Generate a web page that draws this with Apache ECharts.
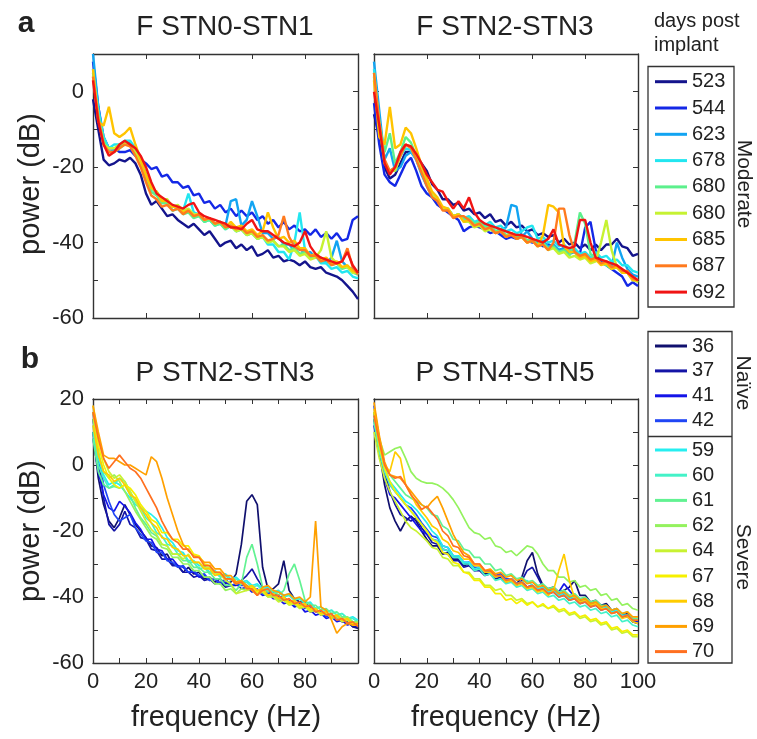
<!DOCTYPE html>
<html><head><meta charset="utf-8">
<script src="https://cdn.jsdelivr.net/npm/echarts@6/dist/echarts.min.js"></script>
<style>html,body{margin:0;padding:0;background:#fff}#c{width:757px;height:739px}</style>
</head><body><div id="c"></div><script>
// ---------- data ----------
const FREQ = [0,2,4,6,8,10,12,14,16,18,20,22,24,26,28,30,32,34,36,38,40,42,44,46,48,50,52,54,56,58,60,62,64,66,68,70,72,74,76,78,80,82,84,86,88,90,92,94,96,98,100];

const MODERATE = ['523','544','623','678','680a','680b','685','687','692'];
const NAIVE = ['36','37','41','42'];
const SEVERE = ['59','60','61','62','64','67','68','69','70'];

const Y_LABELS_TOP = [0,-20,-40,-60];
const Y_LABELS_BOTTOM = [20,0,-20,-40,-60];
const X_LABELS_C = [0,20,40,60,80];
const X_LABELS_D = [0,20,40,60,80,100];

// Panel a, F STN0-STN1
const FA_523 = [-2,-10,-18,-19.5,-19,-18,-18.5,-17.5,-19,-22, -27,-30,-29,-31,-33,-32.5,-34,-35,-36,-35, -36.5,-38,-37,-39,-41,-40,-39.5,-41.5,-40.5,-42, -41,-43.5,-43,-42,-44,-43.5,-45,-44.5,-45,-46, -45,-46.5,-47,-46.5,-48,-48.5,-49,-50,-51.5,-53, -55];
const FA_544 = [8,-4,-12,-15,-15,-16,-16,-15.5,-17,-18, -19,-20.5,-20,-22.5,-22,-24,-24,-25.5,-25,-27.5, -27,-29.5,-29,-31,-30,-32,-31,-33,-31.5,-33, -32,-34,-33,-35,-34,-36,-34.5,-36.5,-35.5,-37, -36.5,-38,-36.5,-38.5,-37.5,-39,-37.5,-39.5,-39,-34, -33];
const FA_623 = [10,-4,-13,-16,-15.5,-14.5,-14,-13.5,-15,-18, -22,-25.5,-26.5,-29,-29,-30.5,-30.5,-32,-31.5,-33, -32.5,-34,-33.5,-35,-34.5,-35.5,-29,-28.5,-35.5,-34, -29,-33,-37.5,-37.5,-39,-38.5,-40.5,-40.5,-42,-41.5, -43,-42.5,-44,-44,-45.5,-44,-39.5,-45,-46.5,-47, -48.5];
const FA_678 = [6,-5,-12,-15,-14,-14,-13,-13,-15,-18, -22,-25.5,-27,-29.5,-29.5,-31.5,-31,-31.5,-27,-32, -32.5,-34.5,-34,-35.5,-35,-36.5,-35.5,-37,-36.5,-38, -37.5,-39,-38.5,-40.5,-40.5,-42.5,-42.5,-44.5,-40,-32, -42,-44,-43.5,-45.5,-45.5,-47,-46.5,-48,-47.5,-49, -49.5];
const FA_680a = [5,-6,-13,-16,-16,-15,-14,-14,-16,-19, -23,-26.5,-27.5,-29.5,-29.5,-31.5,-31,-32.5,-32,-33.5, -33,-34.5,-34,-35.5,-35,-36.5,-35.5,-37,-36.5,-38, -37.5,-39,-38.5,-40,-39.5,-41,-40.5,-42,-41.5,-43, -42.5,-44,-43.5,-45,-44.5,-46,-45.5,-47,-46.5,-48, -48.5];
const FA_680b = [4,-7,-14,-15,-15,-14,-13.5,-14,-16,-19, -22,-25.5,-26.5,-28.5,-28.5,-30.5,-30,-31.5,-31,-32.5, -32.5,-34,-33.5,-35,-34.5,-36,-35.5,-37,-36.5,-38, -37.5,-39,-38.5,-40,-39.5,-41,-41,-42.5,-42,-43.5, -43,-44.5,-44,-42,-37,-44,-45.5,-46.5,-46.5,-48, -48];
const FA_685 = [6,-8,-9,-4,-11,-12,-11,-9.5,-14,-18, -22,-25.5,-26.5,-29,-29,-30.5,-30.5,-32,-31.5,-33, -32.5,-34,-33.5,-35,-34.5,-36,-34.5,-36,-35.5,-37, -36.5,-38,-37,-32,-36,-39,-38.5,-40,-39.5,-41.5, -41.5,-43.5,-43,-44.5,-44,-45.5,-45,-46.5,-46,-47.5, -48];
const FA_687 = [4,-7,-14,-16,-16,-15,-14,-14.5,-17,-20, -24,-27.5,-28.5,-30.5,-30,-31.5,-31,-32.5,-31.5,-33, -32.5,-34,-33.5,-35,-34.5,-36,-35.5,-36.5,-36,-37.5, -37,-38.5,-38,-39.5,-39,-38,-33,-38.5,-41,-42, -42,-43.5,-43.5,-45,-44.5,-46,-45.5,-45,-41.5,-46.5, -48.5];
const FA_692 = [3,-8,-14,-17,-16,-14,-13,-14,-15,-17, -20,-24,-27,-28,-29,-30,-30.5,-31,-30,-29.5, -32,-33,-33.5,-34,-34.5,-35,-36,-36,-36.5,-35, -34,-36.5,-37,-37,-38,-39,-40,-40.5,-41,-40, -37,-41,-43,-44,-44.5,-45,-45.5,-45,-42.5,-46, -48];

// Panel a, F STN2-STN3
const FB_523 = [-6,-12,-20,-23,-22,-19,-16,-16,-17,-19, -21,-24.5,-26,-28.5,-28.5,-30,-29.5,-31.5,-31,-32.5, -32,-33.5,-32.5,-34.5,-34,-35.5,-34.5,-36,-35.5,-37, -36.5,-38,-37.5,-38.5,-38,-40,-39,-40.5,-40,-41.5, -40.5,-42,-40.5,-42,-40.5,-40.5,-39,-41,-41.5,-43.5, -43];
const FB_544 = [-3,-14,-22,-24,-25,-22,-19,-17.5,-21,-25, -27,-28,-30,-31,-32,-33,-34,-37,-36,-35.5, -36,-36.5,-37.5,-37,-38,-39,-38.5,-39,-38.5,-39.5, -40,-40,-41,-40.5,-41,-42,-41.5,-42.5,-42,-43, -36,-34.5,-42,-45,-46,-47,-48,-49,-51.5,-50.5, -51.5];
const FB_623 = [8,-5,-18,-15,-21,-20,-17,-16,-18,-22, -25,-28,-28.5,-31,-31,-33,-32.5,-34,-33.5,-35, -34.5,-36,-35.5,-37,-36.5,-36,-30,-30.5,-38.5,-37, -39,-40,-39.5,-41,-40.5,-42,-41.5,-43,-42.5,-44, -43.5,-44.5,-44,-45.5,-45,-46.5,-40,-44,-47,-48.5, -49];
const FB_678 = [6,-8,-19,-21,-20,-17,-15,-15.5,-18,-21.5, -24.5,-27.5,-28.5,-31,-31,-33,-32.5,-33.5,-33,-34.5, -34,-35.5,-34.5,-36,-35.5,-37,-36.5,-37.5,-37,-36, -35.5,-39,-38.5,-40,-39.5,-41,-40.5,-42,-41.5,-43, -42.5,-44,-42.5,-44,-43.5,-45,-44.5,-46,-46,-47.5, -48];
const FB_680a = [4,-8,-16,-11,-19,-16,-12,-13.5,-17,-21, -24.5,-27.5,-28.5,-31,-31,-33,-32.5,-34,-33.5,-35, -34.5,-36,-35.5,-37,-36.5,-38,-37.5,-38.5,-38,-39.5, -39,-40.5,-40,-41.5,-41,-42.5,-42,-43.5,-40,-32, -35,-43,-44.5,-45.5,-46,-47,-46.5,-48,-48,-50, -50];
const FB_680b = [5,-9,-19,-21,-21,-17,-14,-14.5,-17.5,-21, -24.5,-27.5,-28.5,-31,-31,-33,-32.5,-34.5,-34.5,-36, -35.5,-37,-36.5,-37.5,-37,-38.5,-37.5,-39,-38.5,-40, -39.5,-41,-40.5,-42,-41.5,-43,-42.5,-44,-43.5,-44.5, -44,-45.5,-45,-40,-34,-42,-46.5,-47.5,-48,-49.5, -50.5];
const FB_685 = [3,-12,-14,-4,-15,-14,-9.5,-11,-15,-19.5, -23,-26.5,-28,-30.5,-31,-33,-32.5,-34.5,-34,-35.5, -35,-36.5,-36,-37.5,-37,-38.5,-37.5,-39,-38.5,-40, -39.5,-41,-38,-30,-30.5,-32,-41,-42.5,-42.5,-44, -43.5,-45,-44.5,-46,-45.5,-47,-46.5,-48,-48,-50, -50];
const FB_687 = [5,-8,-18,-21,-20,-17,-14,-15,-18,-21.5, -25,-28,-29,-31.5,-31.5,-33.5,-33,-33,-34,-35.5, -35,-36.5,-36,-37.5,-37,-38.5,-38,-39,-38.5,-40, -39.5,-41,-40.5,-42,-40,-31,-31,-38,-42.5,-43.5, -43,-44.5,-44,-45.5,-45,-46.5,-46,-47.5,-47.5,-49.5, -50];
const FB_692 = [0,-9,-19,-22,-20,-16,-14,-14.5,-16.5,-19, -22,-24,-26,-26.5,-29,-31,-29,-31,-28,-32, -34,-35,-35.5,-36,-36.5,-37,-37.5,-38,-38,-38.5, -39,-39.5,-40,-39,-36.5,-40.5,-41,-41.5,-41,-34, -34,-40,-44,-44.5,-45,-45.5,-46,-47,-48,-49, -50];

// Panel b, P STN2-STN3
const PC_36 = [10,-4,-12,-17,-19,-16,-12,-15,-18,-20, -22,-24.5,-25,-27.5,-27,-30,-30.5,-32.5,-31,-33, -32.5,-34.5,-34,-35.5,-34.5,-36,-35.5,-33,-24,-11, -9,-12,-31,-37.5,-37.5,-36,-29,-38,-40.5,-41.5, -41.5,-43.5,-43.5,-45,-44.5,-46.5,-45.5,-47.5,-47.5,-49, -49.5];
const PC_37 = [14,2,-10,-18,-20,-18,-14,-18,-19,-22, -22.5,-25.5,-26,-28.5,-28.5,-30.5,-30.5,-32.5,-32.5,-34, -33.5,-35,-34.5,-36,-35.5,-37,-36.5,-36.5,-35,-33.5, -31.5,-34.5,-37,-38.5,-38.5,-40,-40,-41.5,-41.5,-43, -42.5,-44.5,-44,-45.5,-45,-46.5,-46,-47.5,-47,-49, -49];
const PC_41 = [8,-2,-9,-13,-14,-11,-12.5,-14.5,-17.5,-19.5, -22.5,-22.5,-25.5,-26,-28.5,-28.5,-30.5,-31,-32.5,-32.5, -34,-33.5,-35,-34.5,-36,-35.5,-36.5,-36,-37.5,-37, -38.5,-38,-39.5,-39,-40.5,-40.5,-42,-41.5,-43,-42.5, -44.5,-44,-45.5,-45,-46.5,-46,-47.5,-47,-48.5,-48, -49];
const PC_42 = [16,4,-6,-11,-15,-17,-16,-15,-19,-21, -23,-23.5,-26.5,-26.5,-29,-29.5,-31,-30.5,-32.5,-32, -33.5,-33,-35,-34.5,-36,-34.5,-36.5,-36,-36.5,-36.5, -38,-37.5,-39,-38.5,-40,-39.5,-41,-41,-42.5,-42, -43.5,-43,-44.5,-44.5,-46,-45.5,-47,-46.5,-48,-47.5, -48.5];
const PC_59 = [12,2,-3,-6,-5,-6,-8,-10,-12,-13, -14,-15,-16.5,-19,-22,-23.5,-26,-26.5,-29,-29, -30.5,-30.5,-32.5,-32,-33.5,-33,-34.5,-34,-35.5,-35, -36.5,-36,-37.5,-37,-38.5,-38,-39.5,-39,-40.5,-40.5, -42,-41.5,-43.5,-43,-44.5,-44,-45.5,-45,-46.5,-46, -47];
const PC_60 = [10,0,-4,-7,-6,-4,-5,-8,-11,-13, -16,-17.5,-20.5,-21.5,-24,-24.5,-27,-27,-29.5,-29.5, -31.5,-31,-33,-32.5,-34,-33.5,-35,-34.5,-36,-35.5, -37,-36.5,-38,-37.5,-39,-38.5,-40,-39.5,-41,-40.5, -42,-42,-43.5,-43,-44.5,-44,-45.5,-45,-46.5,-46.5, -47.5];
const PC_61 = [8,-2,-6,-7,-6.5,-7,-6,-9,-13,-16, -18,-20.5,-21.5,-24,-24.5,-27,-27,-29,-29,-31, -31,-32.5,-32.5,-34.5,-34.5,-36.5,-36.5,-38,-36,-28, -24,-30,-37,-38.5,-38,-39.5,-38,-33,-30,-35, -41,-42.5,-42.5,-44,-43.5,-45,-44.5,-46,-46,-47.5, -48];
const PC_62 = [14,4,-2,-4,-3,-5,-8,-11,-14,-16.5, -19,-21.5,-22.5,-25,-25.5,-28,-28,-30,-30,-32, -32,-34,-34,-36,-36,-38,-37.5,-39,-37.5,-38, -37.5,-39,-38.5,-40,-39.5,-41,-40.5,-42,-41.5,-43, -42.5,-44,-43.5,-45,-44.5,-46,-45.5,-46.5,-46,-47.5, -47.5];
const PC_64 = [18,8,2,-2,-4,-3,-5,-8,-11,-14, -17,-19.5,-21,-24,-24.5,-27,-27,-28.5,-27,-29.5, -29.5,-31,-31,-33,-33,-35,-36,-39,-38.5,-38, -37.5,-39,-38.5,-40,-40,-41.5,-41,-42.5,-42,-43.5, -43,-44.5,-44,-45.5,-45,-46.5,-46,-47.5,-47,-48.5, -48.5];
const PC_67 = [16,6,0,-4,-6,-7,-6,-7,-9,-12, -14,-16.5,-17.5,-20.5,-20.5,-22.5,-22.5,-24.5,-24.5,-27, -27.5,-30,-30.5,-32.5,-32.5,-34.5,-34.5,-36,-35.5,-37.5, -37,-38.5,-38,-39.5,-39,-40.5,-40,-42,-41.5,-43, -42.5,-44,-43.5,-45,-44.5,-46,-45.5,-47,-46.5,-48, -48];
const PC_68 = [12,3,-2,-3,-5,-4,-6,-9,-10,-13, -15,-17.5,-19,-22,-22.5,-25,-25.5,-27.5,-27.5,-29.5, -29.5,-31.5,-31.5,-33.5,-33,-34.5,-34.5,-36,-35.5,-37, -36.5,-38,-37.5,-39.5,-39,-40.5,-40,-41.5,-41,-42.5, -42,-43.5,-43.5,-45,-44.5,-46,-45.5,-47,-46.5,-48.5, -48.5];
const PC_69 = [18,10,3,2,2,1,0,0,-1,-2, -3,2.5,1,-4,-10,-15,-20,-24,-26,-27.5, -28,-29.5,-29.5,-31.5,-31.5,-33.5,-33.5,-35.5,-35,-36.5, -38,-39.5,-37,-36.5,-38,-38.5,-39.5,-39,-40.5,-40, -41.5,-40,-17,-43,-44,-47,-51,-49,-48,-48.5, -48];
const PC_70 = [16,8,2,-1,1,3,1,-1,-2,-4, -7,-10,-13,-17,-20,-22.5,-23.5,-25.5,-25.5,-28, -28,-30.5,-30.5,-32.5,-32.5,-34.5,-34.5,-36,-35.5,-37.5, -37.5,-39.5,-38,-37.5,-39.5,-39.5,-41,-40.5,-42,-41.5, -43,-42.5,-44.5,-44,-45.5,-45,-47,-46.5,-48,-47.5, -49];

// Panel b, P STN4-STN5
const PD_36 = [14,4,-6,-13,-17,-20,-17,-15.5,-17,-20, -22.5,-24.5,-24.5,-27,-26.5,-28.5,-28.5,-30.5,-30,-32, -31.5,-33,-32.5,-34,-33.5,-35,-34.5,-36,-34,-29, -26.5,-33,-36.5,-37.5,-37,-38.5,-38,-37,-35,-39.5, -39.5,-41.5,-41,-42.5,-42,-44,-43.5,-45.5,-45,-47, -47.5];
const PD_37 = [16,6,-2,-8,-12,-15,-16,-17,-16,-19, -21,-23.5,-24,-26.5,-27,-29,-29,-31,-30.5,-32, -32,-33.5,-33,-34.5,-34,-35.5,-35,-36.5,-35,-32, -31,-34,-37,-38,-38,-39.5,-39,-40.5,-40,-41.5, -41,-42.5,-42,-43.5,-43,-44.5,-44,-46,-45.5,-47.5, -48];
const PD_41 = [12,3,-4,-9,-10,-12,-14,-16,-18,-20, -21,-22.5,-23,-25.5,-26,-28,-28,-30,-29.5,-31.5, -31,-32.5,-32.5,-34,-33.5,-35,-34.5,-36,-35.5,-37, -36.5,-38,-37.5,-39,-38.5,-38.5,-36,-38,-40,-41, -40.5,-42,-42,-43.5,-43,-44.5,-44.5,-46,-46,-47.5, -47.5];
const PD_42 = [18,8,0,-6,-8,-10,-12,-13,-15,-17.5, -19.5,-21.5,-22,-24.5,-25,-27.5,-27.5,-29.5,-29.5,-31, -31,-32.5,-32,-33.5,-33,-34.5,-34.5,-36,-35.5,-37, -36.5,-38,-37.5,-39,-38.5,-40,-39.5,-41,-40.5,-42, -41.5,-43,-42.5,-44,-43.5,-45,-44.5,-46,-45.5,-47.5, -48];
const PD_59 = [15,6,-1,-5,-7,-9,-11,-12,-13.5,-15.5, -17.5,-20,-21.5,-24.5,-25,-27.5,-27.5,-29.5,-29.5,-31.5, -31,-32.5,-32.5,-34,-33.5,-35,-34.5,-36,-35.5,-35, -36.5,-37.5,-37,-38.5,-38,-39.5,-39,-40.5,-40,-41.5, -41,-42.5,-42,-43.5,-43,-44.5,-44,-45.5,-45.5,-47, -47];
const PD_60 = [13,4,-2,-6,-8,-10,-12,-14,-16,-18, -20,-22.5,-23,-25.5,-26,-28,-28,-30,-30,-32, -31.5,-33.5,-33,-35,-34.5,-36,-35.5,-37,-36.5,-38, -37.5,-39,-38.5,-40,-39.5,-41,-40.5,-42,-41.5,-43, -42.5,-44,-43.5,-45,-44.5,-46,-45.5,-47.5,-47,-48.5, -49];
const PD_61 = [14,5,0,-3,-5,-7,-9,-10,-11,-12, -13,-15,-15.5,-18.5,-19.5,-22.5,-23,-25.5,-26,-28, -28,-30,-30,-32,-31.5,-33.5,-33,-34.5,-34,-35.5, -35,-36.5,-36,-37.5,-37,-38.5,-38,-39.5,-39,-40.5, -40,-41.5,-41,-42.5,-42.5,-44,-43.5,-45,-44.5,-46.5, -46.5];
const PD_62 = [16,8,3,4,5,5.5,2,-2,-4,-5, -5.5,-5.5,-6,-7,-8.5,-10.5,-13,-16,-19,-20.5, -21,-22.5,-22,-24.5,-25,-26.5,-26,-27.5,-26,-24.5, -25,-27,-30,-32,-32,-34,-34,-35.5,-35,-37, -36.5,-38,-37.5,-39.5,-39,-41,-40.5,-42.5,-42,-43.5, -44];
const PD_64 = [10,2,-4,-8,-11,-14,-17,-19,-20,-21.5, -23,-25,-25.5,-28,-28.5,-30.5,-30.5,-32.5,-32.5,-34.5, -34.5,-36.5,-36.5,-38,-37.5,-39.5,-39.5,-41,-40.5,-42, -41.5,-43,-42.5,-43.5,-43,-44.5,-44,-45.5,-45,-46.5, -46,-47.5,-47,-48.5,-48,-50,-49.5,-51,-50.5,-52, -52];
const PD_67 = [16,6,-1,-5,-8,-10,-12,-14,-16,-18, -20,-22.5,-23.5,-26.5,-27,-29.5,-30,-32.5,-33,-35, -35,-37,-37,-39,-39,-41,-40.5,-42,-41,-42.5, -41.5,-43,-42,-43.5,-42.5,-44,-43.5,-45,-44.5,-46, -45.5,-47,-46.5,-48,-47.5,-49.5,-49,-50.5,-50,-51.5, -51.5];
const PD_68 = [17,8,0,-2,4,2,-6,-9,-12,-14, -16,-18.5,-19.5,-22.5,-23.5,-26,-26.5,-28.5,-28.5,-30.5, -30.5,-32.5,-32.5,-34,-33.5,-35.5,-35,-36.5,-36,-37.5, -37,-38.5,-38,-39.5,-38,-32,-27,-35,-40.5,-41.5, -41,-42.5,-42,-43.5,-43.5,-45,-44.5,-46.5,-46,-47.5, -48];
const PD_69 = [19,9,1,-3,-3.5,-4,-6,-8,-10,-12, -13,-11,-9.5,-13,-17,-21,-24,-26.5,-27.5,-30, -30,-32,-31.5,-33,-32.5,-34,-33.5,-35,-34.5,-36, -35.5,-37,-36.5,-38,-37.5,-39,-38.5,-40,-39.5,-41, -40.5,-42,-41.5,-43,-42.5,-44,-43.5,-45,-44.5,-46, -46];
const PD_70 = [15,7,0,-3,-4,-3.5,-6,-9,-11,-13.5, -12.5,-14.5,-16.5,-20,-21.5,-24.5,-25,-27.5,-28,-30, -30,-32,-32,-33.5,-33.5,-35,-34.5,-36,-35.5,-37, -36.5,-38,-37.5,-39,-38.5,-40,-39.5,-41,-40.5,-42, -41.5,-43,-42.5,-44,-43.5,-45,-44.5,-46,-45.5,-47, -47];

// ---------- styles ----------
const COLORS = {
  '523':'#14148c','544':'#1428e6','623':'#12a4f2','678':'#22e6f0','680a':'#5cf08c','680b':'#c6f232','685':'#ffc400','687':'#ff7a1e','692':'#f01414',
  '36':'#10106e','37':'#1414a6','41':'#1414e8','42':'#2046f5','59':'#26eef0','60':'#44f2c8','61':'#62f292','62':'#94f25e','64':'#c8f232','67':'#f6f000','68':'#ffcc00','69':'#ffa000','70':'#ff7020'
};
const INK = '#222';
const FONT = 'Liberation Sans, Arial, sans-serif';

const PANELS = [
  {names: MODERATE, values: [FA_523,FA_544,FA_623,FA_678,FA_680a,FA_680b,FA_685,FA_687,FA_692], width: 2.4},
  {names: MODERATE, values: [FB_523,FB_544,FB_623,FB_678,FB_680a,FB_680b,FB_685,FB_687,FB_692], width: 2.4},
  {names: NAIVE.concat(SEVERE), values: [PC_36,PC_37,PC_41,PC_42,PC_59,PC_60,PC_61,PC_62,PC_64,PC_67,PC_68,PC_69,PC_70], width: 1.7},
  {names: NAIVE.concat(SEVERE), values: [PD_36,PD_37,PD_41,PD_42,PD_59,PD_60,PD_61,PD_62,PD_64,PD_67,PD_68,PD_69,PD_70], width: 1.7}
];

const GRIDS = [
  {left:93, top:54, width:265, height:264},
  {left:374, top:54, width:264, height:264},
  {left:93, top:399, width:265, height:264},
  {left:374, top:399, width:264, height:264}
];
const AXCFG = [
  {ymin:-60, ymax:10, xint:20, xlab:null, ylab:Y_LABELS_TOP},
  {ymin:-60, ymax:10, xint:20, xlab:null, ylab:null},
  {ymin:-60, ymax:20, xint:10, xlab:X_LABELS_C, ylab:Y_LABELS_BOTTOM},
  {ymin:-60, ymax:20, xint:10, xlab:X_LABELS_D, ylab:null}
];

const lineAx = {show:true, onZero:false, lineStyle:{color:'#333', width:1.4}};
const tickAx = {show:true, inside:true, length:5, lineStyle:{color:'#333', width:1}};
const xAxis = [], yAxis = [];
AXCFG.forEach((c, i) => {
  xAxis.push({gridIndex:i, type:'value', min:0, max:100, interval:c.xint, position:'bottom',
    axisLine:lineAx, axisTick:tickAx, splitLine:{show:false},
    axisLabel:{show:!!c.xlab, margin:8, fontSize:22, color:INK, fontFamily:FONT,
      formatter: v => (c.xlab && c.xlab.indexOf(v) >= 0) ? String(v) : ''}});
  xAxis.push({gridIndex:i, type:'value', min:0, max:100, interval:c.xint, position:'top',
    axisLine:lineAx, axisTick:tickAx, splitLine:{show:false}, axisLabel:{show:false}});
  yAxis.push({gridIndex:i, type:'value', min:c.ymin, max:c.ymax, interval:10, position:'left',
    axisLine:lineAx, axisTick:tickAx, splitLine:{show:false},
    axisLabel:{show:!!c.ylab, margin:9, fontSize:22, color:INK, fontFamily:FONT,
      formatter: v => (c.ylab && c.ylab.indexOf(v) >= 0) ? String(v) : ''}});
  yAxis.push({gridIndex:i, type:'value', min:c.ymin, max:c.ymax, interval:10, position:'right',
    axisLine:lineAx, axisTick:tickAx, splitLine:{show:false}, axisLabel:{show:false}});
});

const series = [];
PANELS.forEach((p, i) => {
  p.names.forEach((name, k) => {
    series.push({
      type:'line', name: name, xAxisIndex: 2*i, yAxisIndex: 2*i,
      data: FREQ.map((f, j) => [f, p.values[k][j]]),
      showSymbol:false, symbol:'none', smooth:false, silent:true,
      lineStyle:{width:p.width, color:COLORS[name]}, itemStyle:{color:COLORS[name]},
      z: 2
    });
  });
});

const legendBase = {orient:'vertical', left:655, padding:0, icon:'rect', itemWidth:32, itemHeight:3,
  selectedMode:false, textStyle:{fontSize:20, lineHeight:20, color:INK, fontFamily:FONT},
  formatter: n => n.replace(/[a-z]/g, '')};

const txt = (t, x, y, size, opts) => Object.assign({type:'text', x:x, y:y,
  style:Object.assign({text:t, fontSize:size, fontFamily:FONT, fill:INK, textAlign:'center', textVerticalAlign:'middle'}, (opts && opts.style) || {})},
  opts && opts.rotation !== undefined ? {rotation: opts.rotation} : {});

const graphic = [
  txt('a', 26, 24, 30, {style:{fontWeight:'bold'}}),
  txt('b', 30, 360, 30, {style:{fontWeight:'bold'}}),
  txt('F STN0-STN1', 225, 27, 28),
  txt('F STN2-STN3', 505, 27, 28),
  txt('P STN2-STN3', 225, 373, 28),
  txt('P STN4-STN5', 505, 373, 28),
  txt('power (dB)', 31, 184, 29, {rotation: Math.PI/2}),
  txt('power (dB)', 31, 531, 29, {rotation: Math.PI/2}),
  txt('frequency (Hz)', 226, 718, 29),
  txt('frequency (Hz)', 506, 718, 29),
  txt('days post', 654, 21, 20, {style:{textAlign:'left'}}),
  txt('implant', 654, 45, 20, {style:{textAlign:'left'}}),
  txt('Moderate', 744, 184, 21, {rotation: -Math.PI/2}),
  txt('Naïve', 743, 383, 21, {rotation: -Math.PI/2}),
  txt('Severe', 743, 557, 21, {rotation: -Math.PI/2}),
  {type:'rect', shape:{x:648, y:66.5, width:86, height:240.5}, style:{fill:'none', stroke:'#333', lineWidth:1.3}},
  {type:'rect', shape:{x:648, y:331.5, width:84, height:331.5}, style:{fill:'none', stroke:'#333', lineWidth:1.3}},
  {type:'line', shape:{x1:648, y1:436.5, x2:732, y2:436.5}, style:{stroke:'#333', lineWidth:1.3}}
];

const chart = echarts.init(document.getElementById('c'), null, {renderer:'canvas'});
chart.setOption({
  animation:false,
  backgroundColor:'#fff',
  grid: GRIDS,
  xAxis: xAxis,
  yAxis: yAxis,
  series: series,
  legend: [
    Object.assign({}, legendBase, {top:71.7, itemGap:6.3, data: MODERATE}),
    Object.assign({}, legendBase, {top:336, itemGap:4.9, data: NAIVE}),
    Object.assign({}, legendBase, {top:440, itemGap:5.2, data: SEVERE})
  ],
  graphic: graphic
});
</script></body></html>
